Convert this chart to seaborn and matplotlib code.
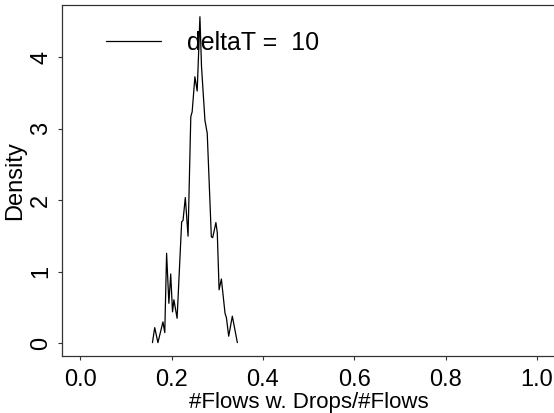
import numpy as np
import pandas as pd
import matplotlib
matplotlib.use("Agg")
import matplotlib.pyplot as plt
import seaborn as sns

# density curve
frac = [0.158, 0.163, 0.170, 0.181, 0.185, 0.189, 0.194, 0.198, 0.202, 0.205,
        0.212, 0.222, 0.225, 0.230, 0.236, 0.242, 0.245, 0.251, 0.256, 0.258,
        0.262, 0.2655, 0.273, 0.278, 0.287, 0.290, 0.297, 0.300, 0.304, 0.309,
        0.317, 0.320, 0.325, 0.333, 0.344]
density = [0.01, 0.22, 0.01, 0.30, 0.15, 1.26, 0.56, 0.97, 0.44, 0.61,
           0.35, 1.70, 1.72, 2.04, 1.50, 3.17, 3.24, 3.73, 3.53, 3.87,
           4.57, 3.87, 3.12, 2.94, 1.49, 1.48, 1.69, 1.55, 0.75, 0.90,
           0.42, 0.36, 0.10, 0.38, 0.01]
series_label = "deltaT =  10"
xticks = [0.0, 0.2, 0.4, 0.6, 0.8, 1.0]
yticks = [0, 1, 2, 3, 4]

df = pd.DataFrame({"x": frac, "y": density})

sns.set_theme(style="white")
plt.rcParams["font.family"] = ["Liberation Sans", "DejaVu Sans"]
plt.rcParams["text.color"] = "black"
plt.rcParams["axes.labelcolor"] = "black"
fs = 17

fig = plt.figure(figsize=(5.54, 4.13), dpi=100)
ax = fig.add_axes([0.112, 0.137, 0.890, 0.850])

sns.lineplot(data=df, x="x", y="y", ax=ax, color="black", linewidth=0.9,
             sort=False, label=series_label)

ax.set_xlim(-0.04, 1.04)
ax.set_ylim(-0.183, 4.729)
ax.set_xticks(xticks)
ax.set_xticklabels([f"{t:.1f}" for t in xticks])
ax.set_yticks(yticks)
ax.set_yticklabels([str(t) for t in yticks])

for s in ax.spines.values():
    s.set_color("#333333")
    s.set_linewidth(0.9)

ax.tick_params(axis="both", direction="out", length=3.0, width=0.8,
               color="#333333", labelsize=fs, labelcolor="black",
               bottom=True, left=True)
ax.tick_params(axis="x", pad=6)
ax.tick_params(axis="y", pad=4, labelrotation=90)
for lab in ax.get_yticklabels():
    lab.set_va("center")

ax.set_xlabel("#Flows w. Drops/#Flows", fontsize=16, va="baseline", color="black")
ax.xaxis.set_label_coords(0.5, -0.148)
ax.set_ylabel("Density", fontsize=fs, va="center", color="black")
ax.yaxis.set_label_coords(-0.095, 0.5)

leg = ax.legend(loc="center left", bbox_to_anchor=(0.089, 0.893), frameon=False,
                fontsize=18, handlelength=2.2, handletextpad=1.05,
                borderpad=0, borderaxespad=0)
for t in leg.get_texts():
    t.set_color("black")

fig.savefig("out.png", dpi=100)
